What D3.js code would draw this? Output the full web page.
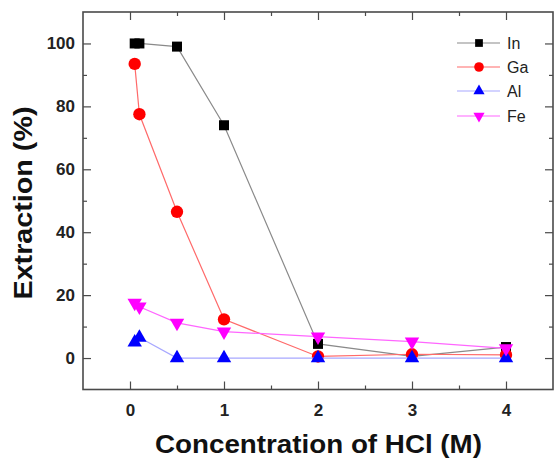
<!DOCTYPE html>
<html>
<head>
<meta charset="utf-8">
<script src="https://cdn.jsdelivr.net/npm/d3@7"></script>
<style>
  body { margin: 0; background: #fff; }
  svg { font-family: "Liberation Sans", Arial, sans-serif; }
</style>
</head>
<body>
<div id="chart"></div>
<script>
// ---------------------------------------------------------------------------
// Data
// ---------------------------------------------------------------------------
const hclConc = [0.05, 0.1, 0.5, 1, 2, 3, 4];
const extIn = [100, 100, 99, 74, 4.5, 0.5, 3.5];
const extGa = [93.5, 77.5, 46.5, 12.3, 0.5, 1.2, 1];
const extAl = [5, 6.5, 0, 0, 0, 0, 0];
const extFe = [17.5, 16.3, 11.2, 8.4, 6.8, 5.2, 3.1];
const seriesNames = ["In", "Ga", "Al", "Fe"];
const xTicks = [0, 1, 2, 3, 4];
const yTicks = [0, 20, 40, 60, 80, 100];

const W = 557, H = 459;
const plot = { left: 83, right: 553, top: 12, bottom: 389.5 };

const svg = d3.select("#chart").append("svg")
    .attr("width", W)
    .attr("height", H);

const x = d3.scaleLinear().domain([-0.5, 4.5]).range([plot.left, plot.right]);
const y = d3.scaleLinear().domain([-10, 110]).range([plot.bottom, plot.top]);

// series styling: marker fill + lighter connecting line
const styles = {
    In: { line: "#8a8a8a", fill: "#000000", symbol: d3.symbolSquare, size: 100, rot: 0 },
    Ga: { line: "#ff6a6a", fill: "#ff0000", symbol: d3.symbolCircle, size: 120, rot: 0 },
    Al: { line: "#a8a8ff", fill: "#0000ff", symbol: d3.symbolTriangle, size: 90, rot: 0 },
    Fe: { line: "#ff66ff", fill: "#ff00ff", symbol: d3.symbolTriangle, size: 90, rot: 180 }
};
const seriesData = { In: extIn, Ga: extGa, Al: extAl, Fe: extFe };

// ---------------------------------------------------------------------------
// Axes (ticks pointing inward on all four sides)
// ---------------------------------------------------------------------------
const minorX = d3.range(-0.5, 4.51, 0.5).filter(v => !xTicks.includes(v) && v > -0.5 && v < 4.5);
const minorY = d3.range(-10, 111, 10).filter(v => !yTicks.includes(v) && v > -10 && v < 110);
const axisColor = "#4a4a4a";

function styleAxis(g) {
    g.select(".domain").remove();
    g.selectAll(".tick line").attr("stroke", axisColor).attr("stroke-width", 1.2);
    g.selectAll("text")
        .attr("fill", "#222")
        .style("font-size", "17px")
        .style("font-weight", "bold");
}

svg.append("g")
    .attr("transform", `translate(0,${plot.bottom})`)
    .call(d3.axisBottom(x).tickValues(xTicks).tickFormat(d3.format("d")).tickSize(-8).tickPadding(14))
    .call(styleAxis);
svg.append("g")
    .attr("transform", `translate(0,${plot.bottom})`)
    .call(d3.axisBottom(x).tickValues(minorX).tickFormat("").tickSize(-4))
    .call(styleAxis);
svg.append("g")
    .attr("transform", `translate(0,${plot.top})`)
    .call(d3.axisTop(x).tickValues(xTicks).tickFormat("").tickSize(-8))
    .call(styleAxis);
svg.append("g")
    .attr("transform", `translate(0,${plot.top})`)
    .call(d3.axisTop(x).tickValues(minorX).tickFormat("").tickSize(-4))
    .call(styleAxis);

svg.append("g")
    .attr("transform", `translate(${plot.left},0)`)
    .call(d3.axisLeft(y).tickValues(yTicks).tickSize(-8).tickPadding(8))
    .call(styleAxis);
svg.append("g")
    .attr("transform", `translate(${plot.left},0)`)
    .call(d3.axisLeft(y).tickValues(minorY).tickFormat("").tickSize(-4))
    .call(styleAxis);
svg.append("g")
    .attr("transform", `translate(${plot.right},0)`)
    .call(d3.axisRight(y).tickValues(yTicks).tickFormat("").tickSize(-8))
    .call(styleAxis);
svg.append("g")
    .attr("transform", `translate(${plot.right},0)`)
    .call(d3.axisRight(y).tickValues(minorY).tickFormat("").tickSize(-4))
    .call(styleAxis);

// frame
svg.append("rect")
    .attr("x", plot.left)
    .attr("y", plot.top)
    .attr("width", plot.right - plot.left)
    .attr("height", plot.bottom - plot.top)
    .attr("fill", "none")
    .attr("stroke", axisColor)
    .attr("stroke-width", 1.6);

// ---------------------------------------------------------------------------
// Series lines and markers
// ---------------------------------------------------------------------------
const line = d3.line().x(d => x(d[0])).y(d => y(d[1]));

seriesNames.forEach(name => {
    const st = styles[name];
    const pts = hclConc.map((c, i) => [c, seriesData[name][i]]);

    svg.append("path")
        .datum(pts)
        .attr("d", line)
        .attr("fill", "none")
        .attr("stroke", st.line)
        .attr("stroke-width", 1.2);

    svg.append("g").selectAll("path")
        .data(pts)
        .join("path")
        .attr("d", d3.symbol().type(st.symbol).size(st.size))
        .attr("transform", d => `translate(${x(d[0])},${y(d[1])}) rotate(${st.rot})`)
        .attr("fill", st.fill);
});

// ---------------------------------------------------------------------------
// Legend
// ---------------------------------------------------------------------------
const legendY = [43, 67, 91, 116];
const legend = svg.append("g");
seriesNames.forEach((name, i) => {
    const st = styles[name];
    const g = legend.append("g").attr("transform", `translate(0,${legendY[i]})`);
    g.append("line")
        .attr("x1", 457).attr("x2", 500)
        .attr("y1", 0).attr("y2", 0)
        .attr("stroke", st.line)
        .attr("stroke-width", 1.2);
    g.append("path")
        .attr("d", d3.symbol().type(st.symbol).size(st.size * 0.6))
        .attr("transform", `translate(479,0) rotate(${st.rot})`)
        .attr("fill", st.fill);
    g.append("text")
        .attr("x", 507)
        .attr("y", 6)
        .style("font-size", "16px")
        .attr("fill", "#222")
        .text(name);
});

// ---------------------------------------------------------------------------
// Axis titles
// ---------------------------------------------------------------------------
svg.append("text")
    .attr("x", 318.5)
    .attr("y", 453)
    .attr("text-anchor", "middle")
    .attr("textLength", 327)
    .attr("lengthAdjust", "spacingAndGlyphs")
    .style("font-size", "25px")
    .style("font-weight", "bold")
    .attr("fill", "#111")
    .text("Concentration of HCl (M)");

svg.append("text")
    .attr("transform", "translate(31.5,203) rotate(-90)")
    .attr("text-anchor", "middle")
    .attr("textLength", 193)
    .attr("lengthAdjust", "spacingAndGlyphs")
    .style("font-size", "25px")
    .style("font-weight", "bold")
    .attr("fill", "#111")
    .text("Extraction (%)");
</script>
</body>
</html>
